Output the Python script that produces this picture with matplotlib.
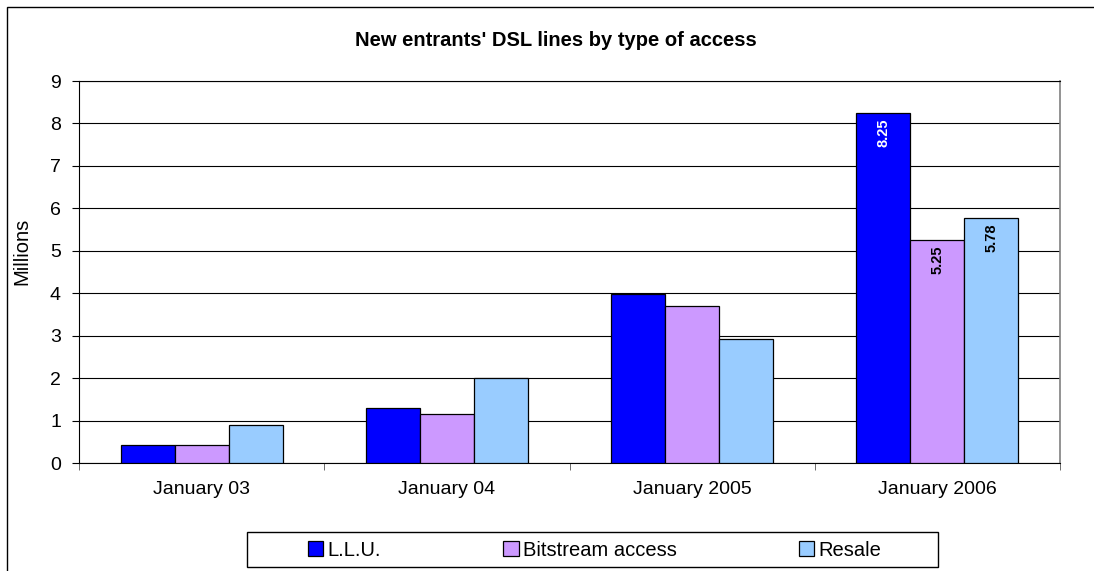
import numpy as np
import matplotlib
matplotlib.use('Agg')
import matplotlib.pyplot as plt
from matplotlib.patches import Rectangle, Patch

plt.rcParams['font.family'] = ['Liberation Sans', 'DejaVu Sans']

# Data (millions of lines)
categories = ['January 03', 'January 04', 'January 2005', 'January 2006']
series_names = ['L.L.U.', 'Bitstream access', 'Resale']
llu = [0.42, 1.30, 3.99, 8.25]
bitstream = [0.42, 1.16, 3.69, 5.25]
resale = [0.90, 2.01, 2.92, 5.78]
colors = ['#0000FF', '#CC99FF', '#99CCFF']
label_colors = ['white', 'black', 'black']
labelled_group = 3  # only January 2006 carries value labels

W, H = 1094, 571
fig = plt.figure(figsize=(W / 100, H / 100), dpi=100)

# outer chart frame
fig.patches.append(Rectangle((7 / W, -0.1), 1.2, 1.1 - 7 / H, transform=fig.transFigure,
                             fill=False, edgecolor='black', linewidth=1.0))

ax = fig.add_axes([79 / W, (H - 463) / H, (1060 - 79) / W, (463 - 81) / H])

x = np.arange(len(categories))
width = 0.22
all_series = [llu, bitstream, resale]
for k, vals in enumerate(all_series):
    bars = ax.bar(x + (k - 1) * width, vals, width, color=colors[k],
                  edgecolor='black', linewidth=0.9, zorder=3, label=series_names[k])
    b = bars[labelled_group]
    ax.annotate(f'{vals[labelled_group]:.2f}',
                (b.get_x() + b.get_width() / 2, b.get_height()),
                xytext=(0, -4), textcoords='offset points',
                ha='center', va='top', rotation=90, fontsize=10.5,
                fontweight='bold', color=label_colors[k], zorder=4)

ax.set_xlim(-0.5, len(categories) - 0.5)
ax.set_ylim(0, 9)
ax.set_yticks(range(0, 10))
ax.yaxis.grid(True, color='black', linewidth=0.8, zorder=0)
ax.set_axisbelow(True)

ax.set_xticks(x)
ax.set_xticklabels(categories, fontsize=14)
ax.set_xticks(np.arange(-0.5, len(categories)), minor=True)
ax.tick_params(axis='x', which='major', length=0, pad=13)
ax.tick_params(axis='x', which='minor', length=5, direction='out', color='#555555')
ax.tick_params(axis='y', labelsize=14, length=5, direction='out', pad=8)

for s in ['left', 'bottom', 'top']:
    ax.spines[s].set_color('black')
    ax.spines[s].set_linewidth(0.8)
ax.spines['right'].set_color('#808080')
ax.spines['right'].set_linewidth(1.2)

fig.text(556 / W, 1 - 40 / H, "New entrants' DSL lines by type of access",
         ha='center', va='center', fontsize=14.5, fontweight='bold')
fig.text(22 / W, 1 - 251 / H, 'Millions', rotation=90, ha='center', va='center', fontsize=14.5)

# legend box
fig.patches.append(Rectangle((247 / W, 1 - 567 / H), (938 - 247) / W, 35 / H,
                             transform=fig.transFigure, fill=False,
                             edgecolor='black', linewidth=1.0))
handles = [Patch(facecolor=c, edgecolor='black', linewidth=0.9) for c in colors]
fig.legend(handles, series_names, loc='center left', ncol=3,
           bbox_to_anchor=(308 / W, 1 - 550 / H), frameon=False, fontsize=14.5,
           borderpad=0, borderaxespad=0,
           handlelength=0.75, handleheight=0.75, handletextpad=0.2,
           columnspacing=6.1)

fig.savefig('out.png', dpi=100)
